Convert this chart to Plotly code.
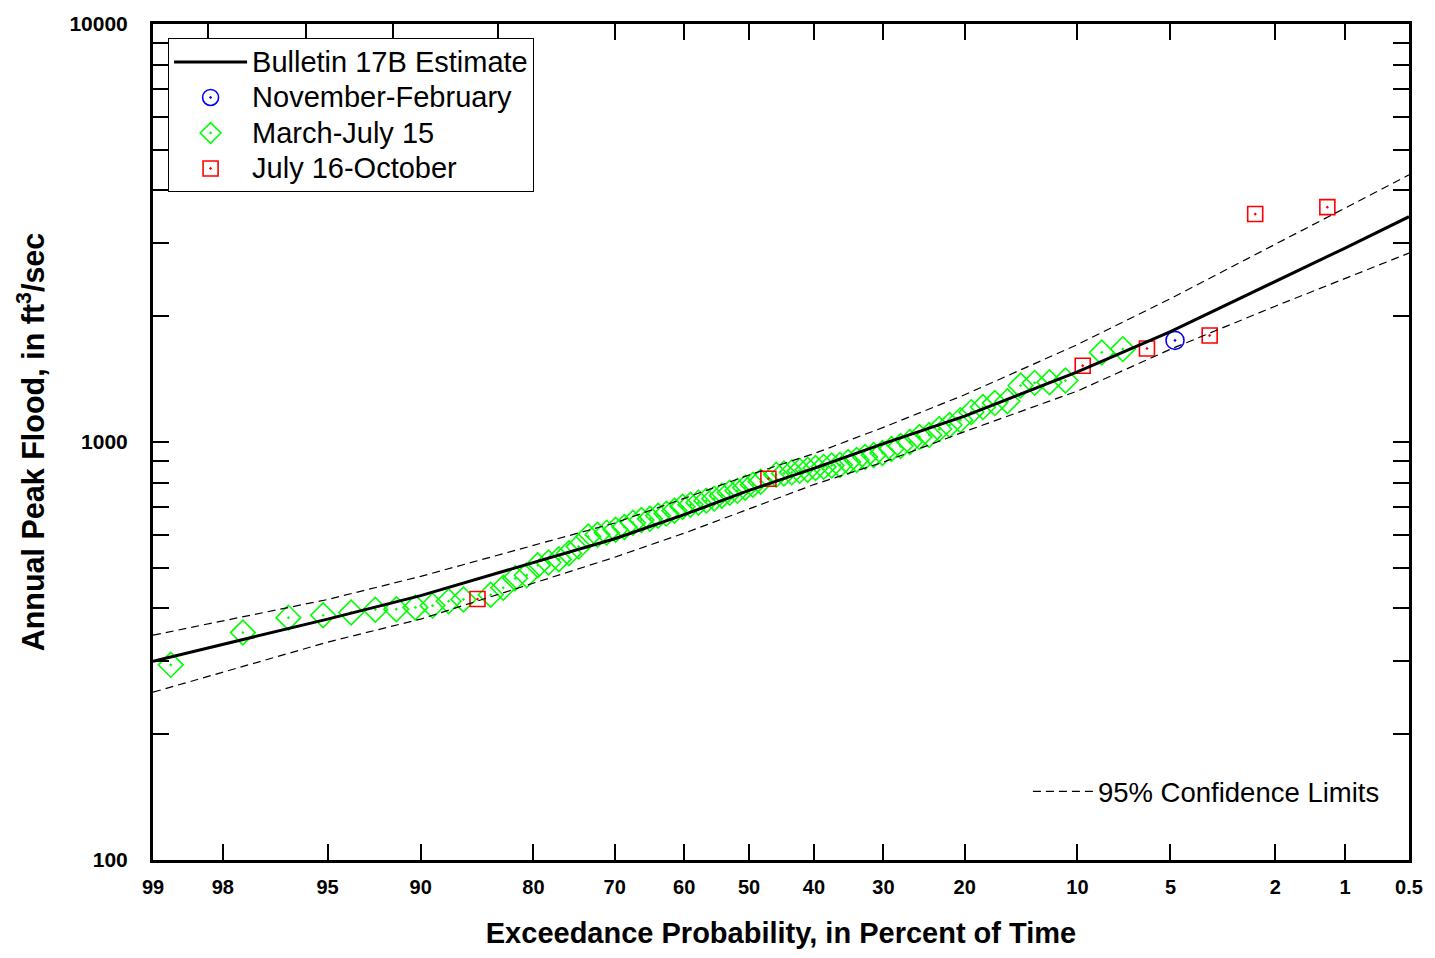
import plotly.graph_objects as go
from statistics import NormalDist

# ---------------- data ----------------
tick_probs = [99, 98, 95, 90, 80, 70, 60, 50, 40, 30, 20, 10, 5, 2, 1, 0.5]
tick_text = ["99", "98", "95", "90", "80", "70", "60", "50", "40", "30",
             "20", "10", "5", "2", "1", "0.5"]
# unlabelled tick marks along the top frame (exceedance percent)
top_tick_probs = [98.26, 95.82, 91.78, 83.62, 70, 60, 50, 40, 30, 20, 10, 5, 2, 1]

# Bulletin 17B frequency curve and 95% confidence limits (ft3/s) at curve_probs
curve_probs = [99, 98, 95, 90, 80, 70, 60, 50, 40, 30, 20, 10, 5, 2, 1, 0.5]
estimate = [299, 328, 377, 429, 515, 587, 670, 766, 865, 991, 1153, 1472, 1837, 2415, 2911, 3459]
upper_cl = [345, 373, 420, 477, 565, 640, 733, 834, 938, 1084, 1297, 1710, 2203, 2972, 3631, 4355]
lower_cl = [252, 281, 332, 377, 459, 530, 605, 693, 791, 895, 1059, 1324, 1667, 2113, 2466, 2831]

# Annual peaks by season (exceedance probability in percent, peak flow ft3/s)
nov_feb_exc = [4.82]
nov_feb_flow = [1750]

jul_oct_exc = [1.20, 2.41, 3.61, 6.02, 9.64, 46.99, 85.54]
jul_oct_flow = [3646, 3510, 1798, 1674, 1522, 817, 421]

mar_jul_exc = [7.23, 8.43, 10.84, 12.05, 13.25, 14.46, 15.66, 16.87, 18.07, 19.28,
               20.48, 21.69, 22.89, 24.10, 25.30, 26.51, 27.71, 28.92, 30.12, 31.33,
               32.53, 33.73, 34.94, 36.14, 37.35, 38.55, 39.76, 40.96, 42.17, 43.37,
               44.58, 45.78, 48.19, 49.40, 50.60, 51.81, 53.01, 54.22, 55.42, 56.63,
               57.83, 59.04, 60.24, 61.45, 62.65, 63.86, 65.06, 66.27, 67.47, 68.67,
               69.88, 71.08, 72.29, 73.49, 74.70, 75.90, 77.11, 78.31, 79.52, 80.72,
               81.93, 83.13, 84.34, 86.75, 87.95, 89.16, 90.36, 91.57, 92.77, 93.98,
               95.18, 96.39, 97.59, 98.80]
mar_jul_flow = [1668, 1638, 1403, 1390, 1385, 1365, 1252, 1239, 1212, 1179,
                1128, 1098, 1074, 1039, 1028, 1000, 978, 962, 941, 931,
                921, 906, 896, 881, 879, 872, 867, 858, 853, 846,
                841, 835, 803, 790, 777, 764, 756, 744, 732, 724,
                716, 708, 700, 685, 674, 666, 655, 651, 641, 626,
                617, 607, 600, 594, 562, 542, 524, 515, 507, 480,
                472, 448, 431, 420, 416, 406, 402, 398, 397, 391,
                385, 380, 350, 293]

y_major = [100, 1000, 10000]
y_major_text = ["100", "1000", "10000"]
y_minor = [200, 300, 400, 500, 600, 700, 800, 900,
           2000, 3000, 4000, 5000, 6000, 7000, 8000, 9000]

# ---------------- probability scale ----------------
_nd = NormalDist()


def pz(p):
    """exceedance percent -> standard normal deviate (normal probability axis)"""
    return _nd.inv_cdf(1.0 - p / 100.0)


FONT = "Liberation Sans, Arial, sans-serif"


def lg(name, px=29):
    return '<span style="font-size:%dpx">%s</span>' % (px, name)


fig = go.Figure()

marker_line = 1.6
fig.add_trace(go.Scatter(
    x=[pz(p) for p in mar_jul_exc], y=mar_jul_flow, mode="markers",
    name=lg("March-July 15"), legendrank=3,
    marker=dict(symbol="diamond-open-dot", size=19, color="#00FF00",
                line=dict(width=marker_line, color="#00FF00"))))
fig.add_trace(go.Scatter(
    x=[pz(p) for p in nov_feb_exc], y=nov_feb_flow, mode="markers",
    name=lg("November-February"), legendrank=2,
    marker=dict(symbol="circle-open-dot", size=18, color="#0000FF",
                line=dict(width=marker_line, color="#0000FF"))))
fig.add_trace(go.Scatter(
    x=[pz(p) for p in jul_oct_exc], y=jul_oct_flow, mode="markers",
    name=lg("July 16-October"), legendrank=4,
    marker=dict(symbol="square-open-dot", size=15, color="#FF0000",
                line=dict(width=marker_line, color="#FF0000"))))

cx = [pz(p) for p in curve_probs]
fig.add_trace(go.Scatter(
    x=cx, y=lower_cl, mode="lines", showlegend=False,
    line=dict(color="black", width=1.2, dash="8px,5px")))
fig.add_trace(go.Scatter(
    x=cx, y=estimate, mode="lines", name=lg("Bulletin 17B Estimate"), legendrank=1,
    line=dict(color="black", width=3)))
# upper limit is drawn on the (identical-range) top axis so that axis is rendered
fig.add_trace(go.Scatter(
    x=cx, y=upper_cl, mode="lines", name="95% Confidence Limits",
    xaxis="x2", legend="legend2",
    line=dict(color="black", width=1.2, dash="8px,5px")))

xrange = [pz(99), pz(0.5)]

fig.update_layout(
    width=1435, height=958,
    margin=dict(l=153, r=23, t=20, b=98),
    paper_bgcolor="white", plot_bgcolor="white",
    font=dict(family=FONT, color="black"),
    showlegend=True,
    legend=dict(
        x=0.012, y=0.983, xanchor="left", yanchor="top",
        bgcolor="white", bordercolor="black", borderwidth=1,
        font=dict(family=FONT, size=25, color="black"),
        itemwidth=73, tracegroupgap=0, traceorder="normal"),
    legend2=dict(
        x=0.6966, y=0.082, xanchor="left", yanchor="middle",
        bgcolor="rgba(0,0,0,0)", borderwidth=0, itemwidth=60,
        font=dict(family=FONT, size=27.5, color="black")),
    xaxis=dict(
        range=xrange, tickmode="array",
        tickvals=[pz(p) for p in tick_probs], ticktext=tick_text,
        showgrid=False, zeroline=False,
        showline=True, linecolor="black", linewidth=3, mirror=True,
        ticks="inside", ticklen=16, tickwidth=2, tickcolor="black",
        tickfont=dict(family=FONT, size=20, weight="bold"),
        ticklabelstandoff=7,
        title=dict(text="Exceedance Probability, in Percent of Time",
                   font=dict(family=FONT, size=29, weight="bold"), standoff=26)),
    xaxis2=dict(
        overlaying="x", side="top", anchor="y", range=xrange,
        tickmode="array", tickvals=[pz(p) for p in top_tick_probs],
        showticklabels=False, showgrid=False, zeroline=False, showline=False,
        ticks="inside", ticklen=16, tickwidth=2, tickcolor="black"),
    yaxis=dict(
        type="log", range=[2, 4], tickmode="array",
        tickvals=y_major, ticktext=y_major_text,
        showgrid=False, zeroline=False,
        showline=True, linecolor="black", linewidth=3, mirror="allticks",
        ticks="inside", ticklen=16, tickwidth=2, tickcolor="black",
        minor=dict(tickmode="array", tickvals=y_minor, ticks="inside",
                   ticklen=9, tickwidth=2, tickcolor="black", showgrid=False),
        tickfont=dict(family=FONT, size=21, weight="bold"),
        ticklabelstandoff=18,
        title=dict(text="Annual Peak Flood, in ft<sup>3</sup>/sec",
                   font=dict(family=FONT, size=30.5, weight="bold"), standoff=16)),
)

fig.write_html("out.html")
